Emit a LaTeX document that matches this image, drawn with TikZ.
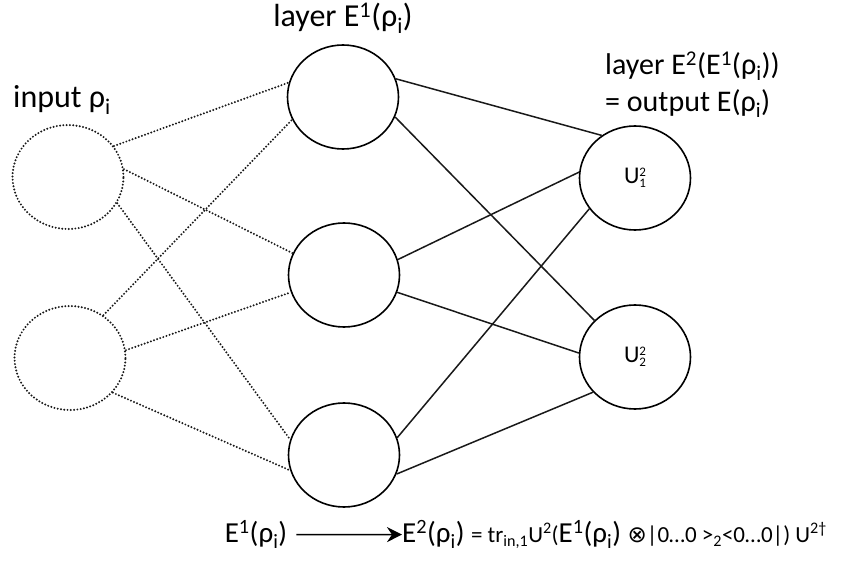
\documentclass[tikz,border=0pt]{standalone}
\usepackage{fontspec}
\setmainfont{Carlito}
\newfontfamily\symfont{DejaVu Sans}
\usepackage{tikz}
\usetikzlibrary{positioning,arrows.meta,shapes.geometric}
\newcommand{\sps}[1]{\textsuperscript{#1}}
\newcommand{\sbs}[1]{\textsubscript{#1}}
\newcommand{\ulabel}[1]{U\raisebox{-4pt}{\fontsize{13}{11}\selectfont\shortstack[l]{2\\#1}}}

\begin{document}
\begin{tikzpicture}[x=1pt,y=-1pt,
  unit/.style={draw,ellipse,line width=1.6pt,minimum width=111pt,minimum height=104pt,inner sep=0pt,
               font=\fontsize{24}{26}\selectfont},
  inunit/.style={unit,draw=black!90,line cap=round,dash pattern=on 0pt off 3.3pt,line width=2.2pt},
  dotline/.style={draw=black!90,line cap=round,dash pattern=on 0pt off 3.3pt,line width=2.2pt},
  wire/.style={draw=black!90,line width=1.5pt},
  lbl/.style={font=\fontsize{30}{37}\selectfont,inner sep=0pt},
  biglbl/.style={font=\fontsize{32}{37}\selectfont,inner sep=0pt},
  big/.style={font=\fontsize{29}{32}\selectfont,inner sep=0pt},
  arr/.style={-{Stealth[length=15pt,width=15pt,inset=5pt]},line width=1.6pt}]
\useasboundingbox (0,0) rectangle (847,561);
% units
\node[inunit] (in1) at (68,177) {};
\node[inunit] (in2) at (70,358) {};
\node[unit] (h1) at (343,97) {};
\node[unit] (h2) at (344,275) {};
\node[unit] (h3) at (344,455) {};
\node[unit] (o1) at (635,178) {\ulabel{1}};
\node[unit] (o2) at (635,357) {\ulabel{2}};
% labels
\node[biglbl] (inlbl) at (62,100) {input ρ\sbs{i}};
\node[biglbl] (l1lbl) at (343,18) {layer E\sps{1}(ρ\sbs{i})};
\node[lbl,align=left,anchor=north west] (l2lbl) at (605,52) {layer E\sps{2}(E\sps{1}(ρ\sbs{i}))\\= output E(ρ\sbs{i})};
% input to first layer
\draw[dotline] (in1.34) -- (h1.165); \draw[dotline] (in1.8) -- (h2.157); \draw[dotline] (in1.-28) -- (h3.164);
\draw[dotline] (in2.52) -- (h1.204); \draw[dotline] (in2.8) -- (h2.198); \draw[dotline] (in2.-39) -- (h3.196);
% first layer to output
\draw[wire] (h1.19) -- (o1.128); \draw[wire] (h1.-21) -- (o2.138);
\draw[wire] (h2.16) -- (o1.174); \draw[wire] (h2.-18) -- (o2.176);
\draw[wire] (h3.18) -- (o1.214); \draw[wire] (h3.-20) -- (o2.220);
% map
\node[big,anchor=base] (e1) at (256,543) {E\sps{1}(ρ\sbs{i})};
\node[big,anchor=base west] (e2) at (402,543) {E\sps{2}(ρ\sbs{i})};
\node[big,anchor=base west] (rhs) at ([xshift=6pt]e2.base east) {{\fontsize{23}{25}\selectfont = tr\sbs{in,1}U\sps{2}(}E\sps{1}(ρ\sbs{i})
  {\fontsize{23}{25}\selectfont{\symfont ⊗}|0…0 >\sbs{2}<0…0|) U\sps{2†}}};
\draw[arr] ([xshift=9pt]e1.east) -- (e2.west);
\end{tikzpicture}
\end{document}
